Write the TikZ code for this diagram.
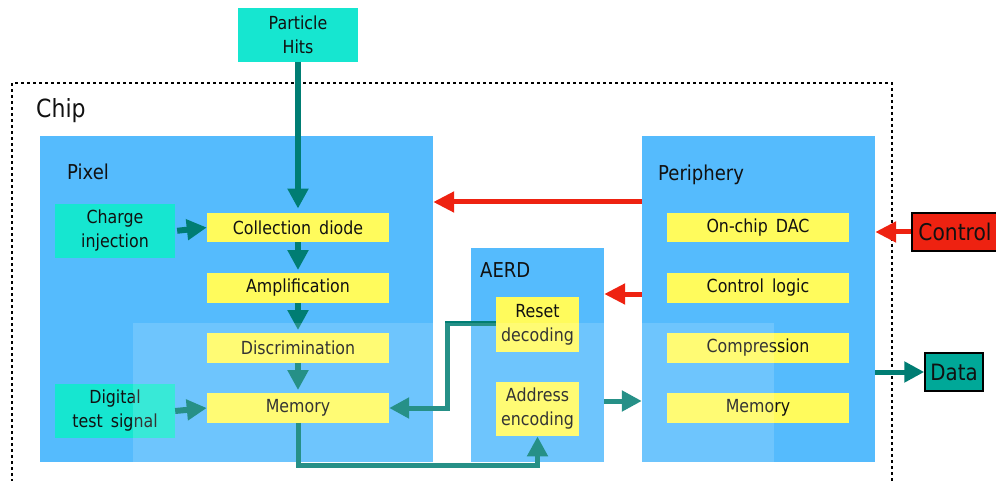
\documentclass[tikz,border=0pt]{standalone}
\usepackage{fontspec}
\setmainfont[FakeStretch=0.88]{DejaVu Sans}
\usetikzlibrary{arrows.meta}
\definecolor{turq}{RGB}{22,230,208}
\definecolor{panel}{RGB}{85,187,253}
\definecolor{stage}{RGB}{255,251,92}
\definecolor{flow}{RGB}{0,125,115}
\definecolor{ctrlred}{RGB}{238,34,17}
\definecolor{datateal}{RGB}{0,168,152}
\definecolor{ink}{RGB}{17,17,17}
\tikzset{
  blk/.style={rectangle, inner sep=0pt, text=ink, font=\fontsize{18}{24}\selectfont, align=center},
  panelbox/.style={blk, fill=panel},
  stagebox/.style={blk, fill=stage, minimum width=182pt, minimum height=29.5pt},
  srcbox/.style={blk, fill=turq, minimum width=120pt, minimum height=54pt},
  aerdbox/.style={blk, fill=stage, minimum width=83pt, minimum height=54.5pt},
  title/.style={anchor=base west, inner sep=0pt, text=ink, font=\fontsize{20.5}{24}\selectfont},
  tealarrow/.style={draw=flow, line width=5pt, -{Triangle[width=20pt,length=20pt]}},
  thickarrow/.style={tealarrow, line width=6pt},
  redarrow/.style={draw=ctrlred, line width=5pt, -{Triangle[width=20pt,length=21pt]}},
}
\begin{document}
\begin{tikzpicture}[x=1pt,y=-1pt]
\useasboundingbox (0,0) rectangle (996,481);
\clip (0,0) rectangle (996,481);

% chip outline (open at the bottom edge)
\draw[dash pattern=on 3pt off 3pt, line width=2pt] (12,500) -- (12,83) -- (892,83) -- (892,500);
\node[title, font=\fontsize{25}{28}\selectfont] (chiplbl) at (36,118) {Chip};

% main blocks
\node[panelbox, minimum width=393pt, minimum height=326pt] (pixel) at (236.5,299) {};
\node[panelbox, minimum width=133pt, minimum height=214pt] (aerd) at (537.5,355) {};
\node[panelbox, minimum width=233pt, minimum height=326pt] (periph) at (758.5,299) {};
\node[title] (pixlbl) at (67,180) {Pixel};
\node[title] (aerdlbl) at (480,277) {AERD};
\node[title] (perlbl) at (658,181) {Periphery};

% external inputs / outputs
\node[srcbox] (hits) at (298,35) {Particle\\Hits};
\node[blk, fill=ctrlred, draw=black, line width=1.5pt, minimum width=86pt, minimum height=38pt,
      font=\fontsize{23}{26}\selectfont] (control) at (955,232) {Control};
\node[blk, fill=datateal, draw=black, line width=1.5pt, minimum width=58pt, minimum height=38pt,
      font=\fontsize{22.5}{26}\selectfont] (data) at (954,372) {Data};

% pixel contents
\node[srcbox] (chg) at (115,231) {Charge\\injection};
\node[srcbox] (dts) at (115,411) {Digital\\test\,\ signal};
\node[stagebox] (coll) at (298,227.5) {Collection\,\ diode};
\node[stagebox] (amp) at (298,288) {Amplification};
\node[stagebox] (disc) at (298,348) {Discrimination};
\node[stagebox] (mem) at (298,408) {Memory};

% AERD contents
\node[aerdbox] (reset) at (537.5,324.5) {Reset\\decoding};
\node[aerdbox] (addr) at (537.5,409) {Address\\encoding};

% periphery contents
\node[stagebox] (dac) at (758,227.5) {On-chip\,\ DAC};
\node[stagebox] (ctl) at (758,288) {Control\,\ logic};
\node[stagebox] (comp) at (758,348) {Compression};
\node[stagebox] (pmem) at (758,408) {Memory};

% signal chain in the pixel
\draw[thickarrow, shorten >=4pt] (hits.south) -- (coll.north);
\draw[thickarrow, shorten >=3pt] (coll.south) -- (amp.north);
\draw[thickarrow, shorten >=3pt] (amp.south) -- (disc.north);
\draw[thickarrow, shorten >=3pt] (disc.south) -- (mem.north);
\draw[thickarrow, shorten <=2pt] (chg.east) -- (coll.west);
\draw[thickarrow] (dts.east) -- (mem.west);

% control paths
\draw[redarrow] (periph.west |- 0,202) -- (pixel.east |- 0,202);
\draw[redarrow] (periph.west |- 0,294) -- (aerd.east |- 0,294);
\draw[redarrow] (control.west) -- (periph.east |- control.west);

% data paths
\draw[tealarrow] (periph.east |- data.west) -- (data.west);
\draw[tealarrow] (aerd.east |- 0,401) -- (periph.west |- 0,401);
\draw[tealarrow] (reset.west |- 0,323.5) -- (447,323.5) |- (mem.east);
\draw[tealarrow] (mem.south) -- (298,465) -| (addr.south);

% light veil over the lower part
\fill[white, opacity=0.15] (133,323) rectangle (774,481);
\end{tikzpicture}
\end{document}
